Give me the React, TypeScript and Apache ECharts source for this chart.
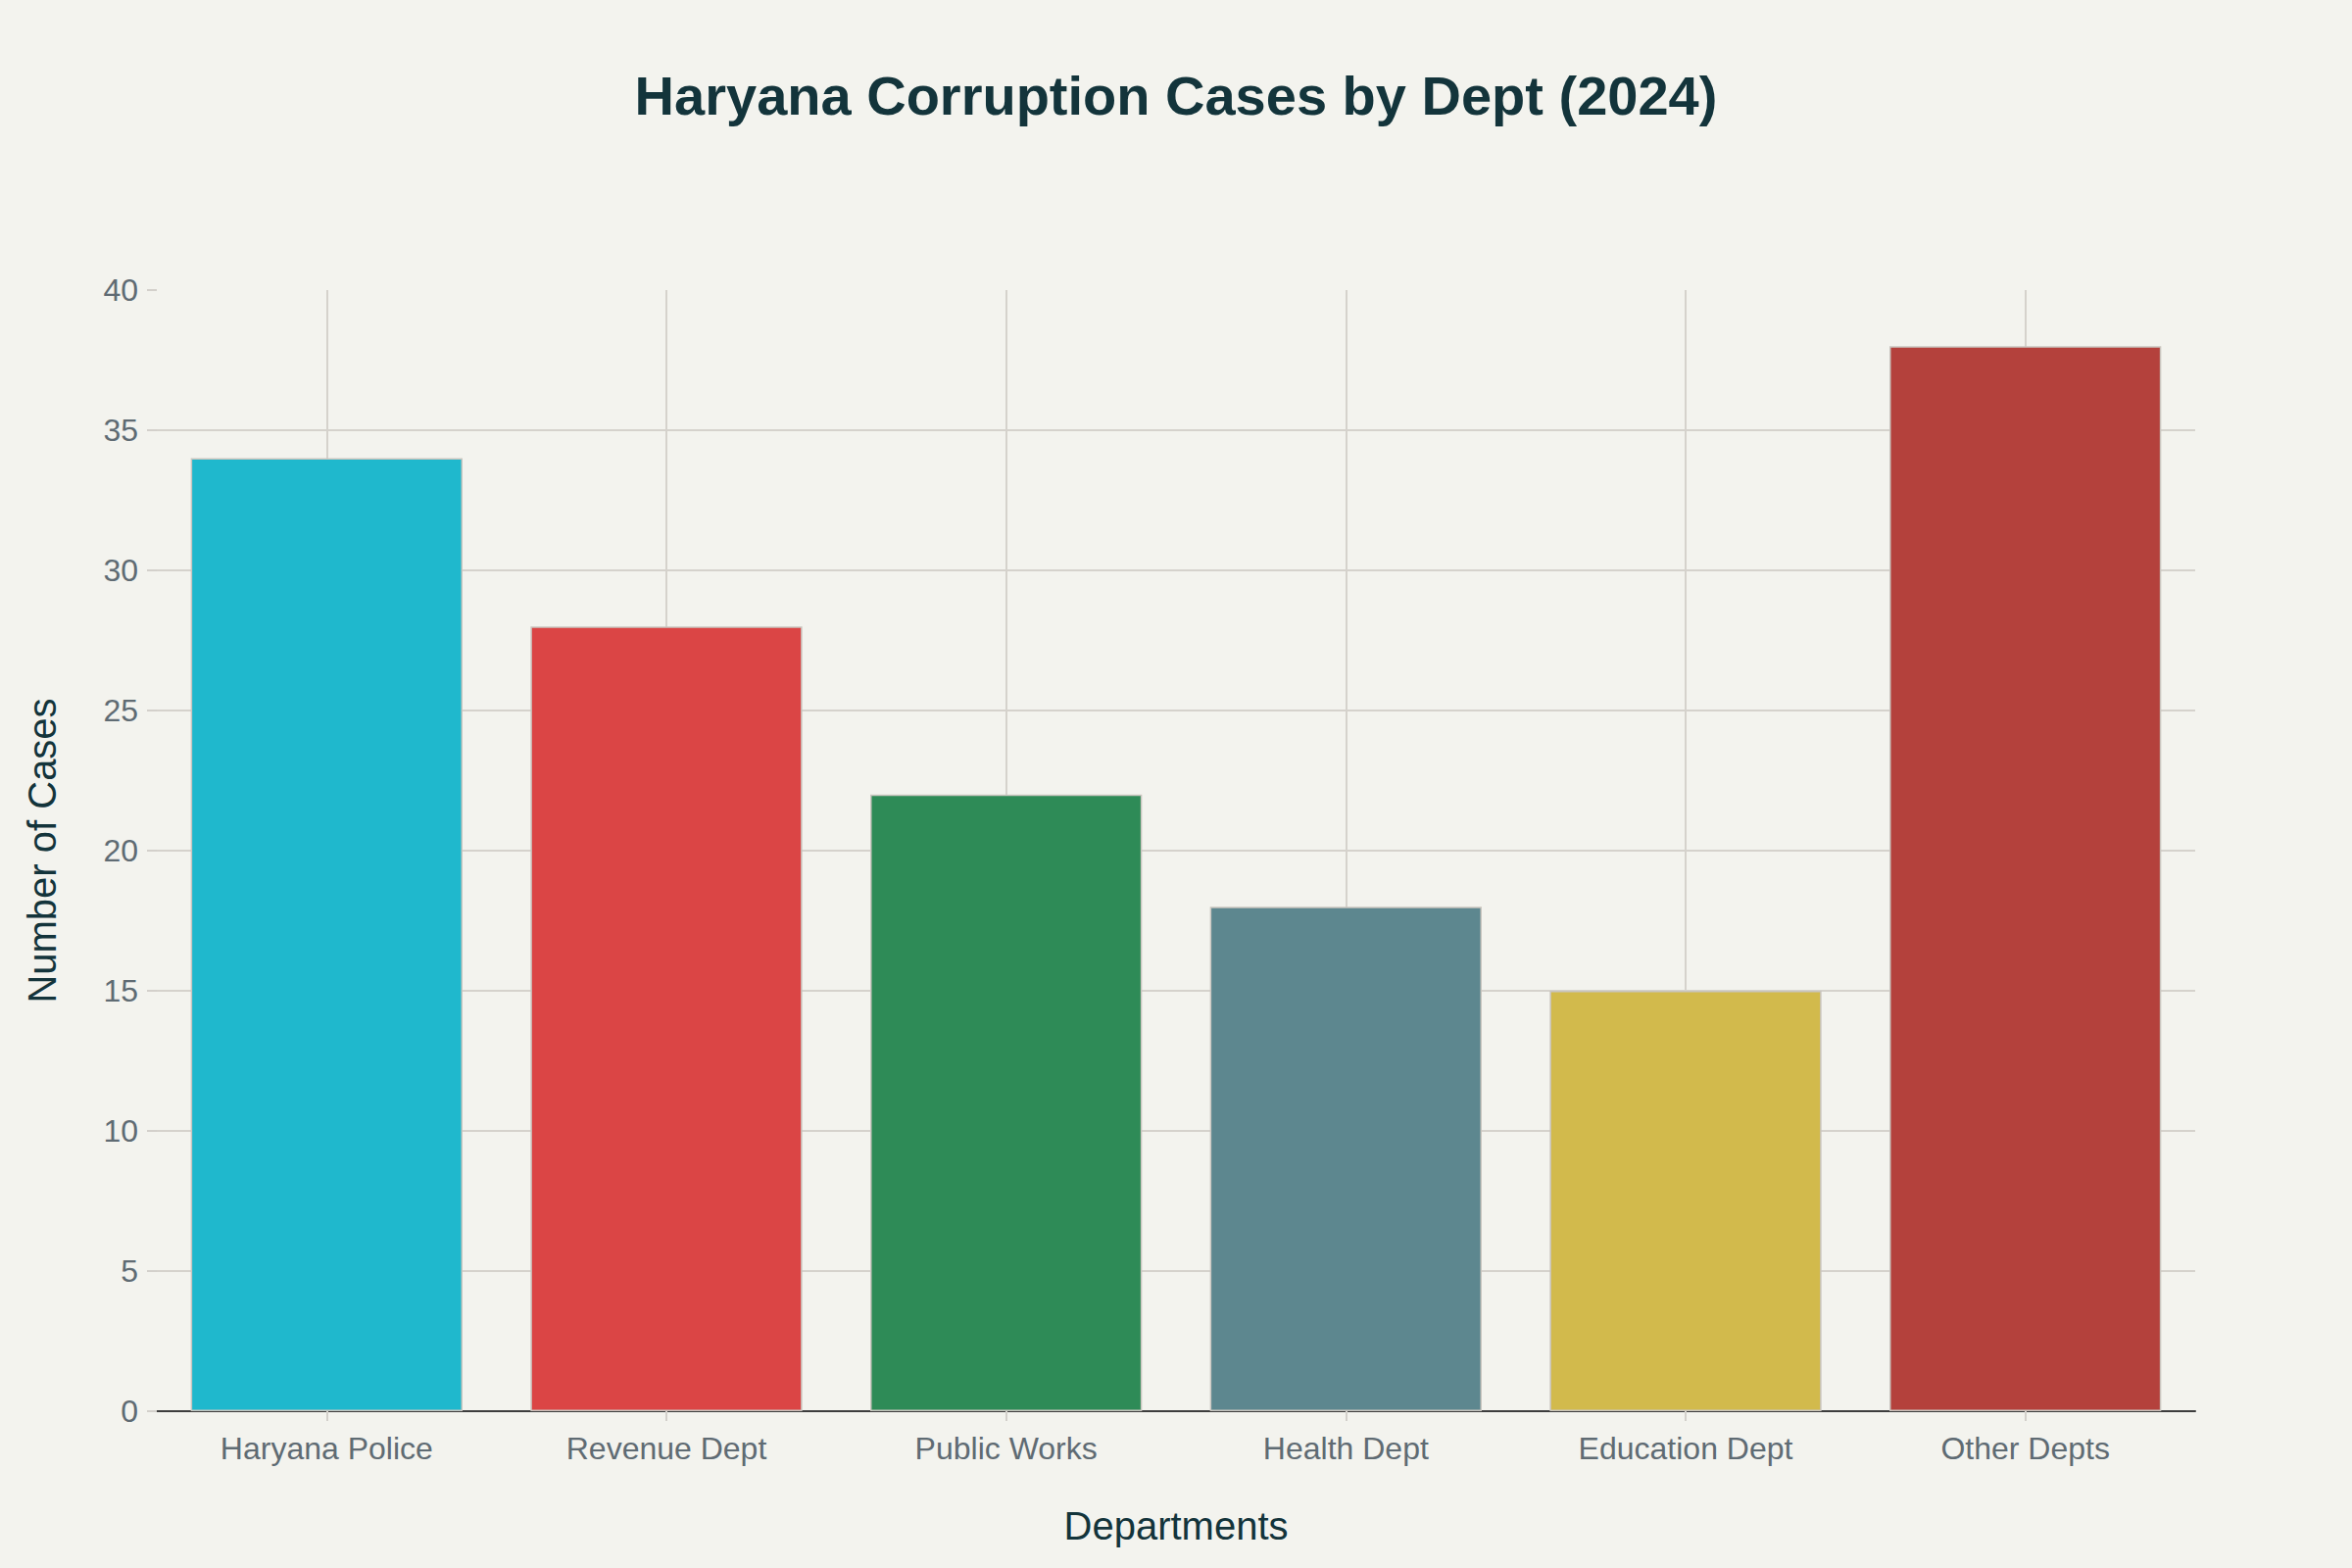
import React, { useEffect, useRef } from 'react';
import * as echarts from 'echarts';

const departments = ['Haryana Police', 'Revenue Dept', 'Public Works', 'Health Dept', 'Education Dept', 'Other Depts'];
const cases = [34, 28, 22, 18, 15, 38];
const barColors = ['#1FB8CD', '#DB4545', '#2E8B57', '#5D878F', '#D2BA4C', '#B4413C'];

const FONT = '"Liberation Sans", Arial, sans-serif';

const App: React.FC = () => {
  const chartRef = useRef<HTMLDivElement>(null);

  useEffect(() => {
    if (!chartRef.current) return;
    const chart = echarts.init(chartRef.current, null, { renderer: 'svg' });

    const option = {
      animation: false,
      backgroundColor: '#F3F3EE',
      textStyle: { fontFamily: FONT },
      title: {
        text: 'Haryana Corruption Cases by Dept (2024)',
        left: 'center',
        top: 64,
        textStyle: { fontFamily: FONT, fontSize: 56, fontWeight: 'bold', color: '#13343B' },
      },
      grid: { left: 160, right: 160, top: 296, bottom: 160 },
      xAxis: {
        type: 'category',
        data: departments,
        name: 'Departments',
        nameLocation: 'middle',
        nameGap: 97,
        nameTextStyle: { fontFamily: FONT, fontSize: 40, color: '#13343B' },
        axisLine: { show: true, lineStyle: { color: '#3D3D3D', width: 2 } },
        axisTick: { show: true, alignWithLabel: true, length: 10, lineStyle: { color: '#D3D0CB', width: 2 } },
        axisLabel: { margin: 22, fontFamily: FONT, fontSize: 32, color: '#5F6B73' },
        splitLine: { show: true, alignWithLabel: true, lineStyle: { color: '#D5D2CC', width: 2 } },
      },
      yAxis: {
        type: 'value',
        min: 0,
        max: 40,
        interval: 5,
        name: 'Number of Cases',
        nameLocation: 'middle',
        nameGap: 97,
        nameTextStyle: { fontFamily: FONT, fontSize: 40, color: '#13343B' },
        axisLine: { show: false },
        axisTick: { show: true, length: 10, lineStyle: { color: '#D3D0CB', width: 2 } },
        axisLabel: { margin: 19, fontFamily: FONT, fontSize: 32, color: '#5F6B73' },
        splitLine: { show: true, showMaxLine: false, lineStyle: { color: '#D5D2CC', width: 2 } },
      },
      series: [
        {
          type: 'bar',
          barWidth: '80%',
          data: cases.map((v, i) => ({
            value: v,
            itemStyle: { color: barColors[i], borderColor: '#C9C5BF', borderWidth: 1.5 },
          })),
        },
      ],
    };

    chart.setOption(option);
    return () => chart.dispose();
  }, []);

  return <div ref={chartRef} style={{ position: 'fixed', left: 0, top: 0, width: 2400, height: 1600 }} />;
};

export default App;
